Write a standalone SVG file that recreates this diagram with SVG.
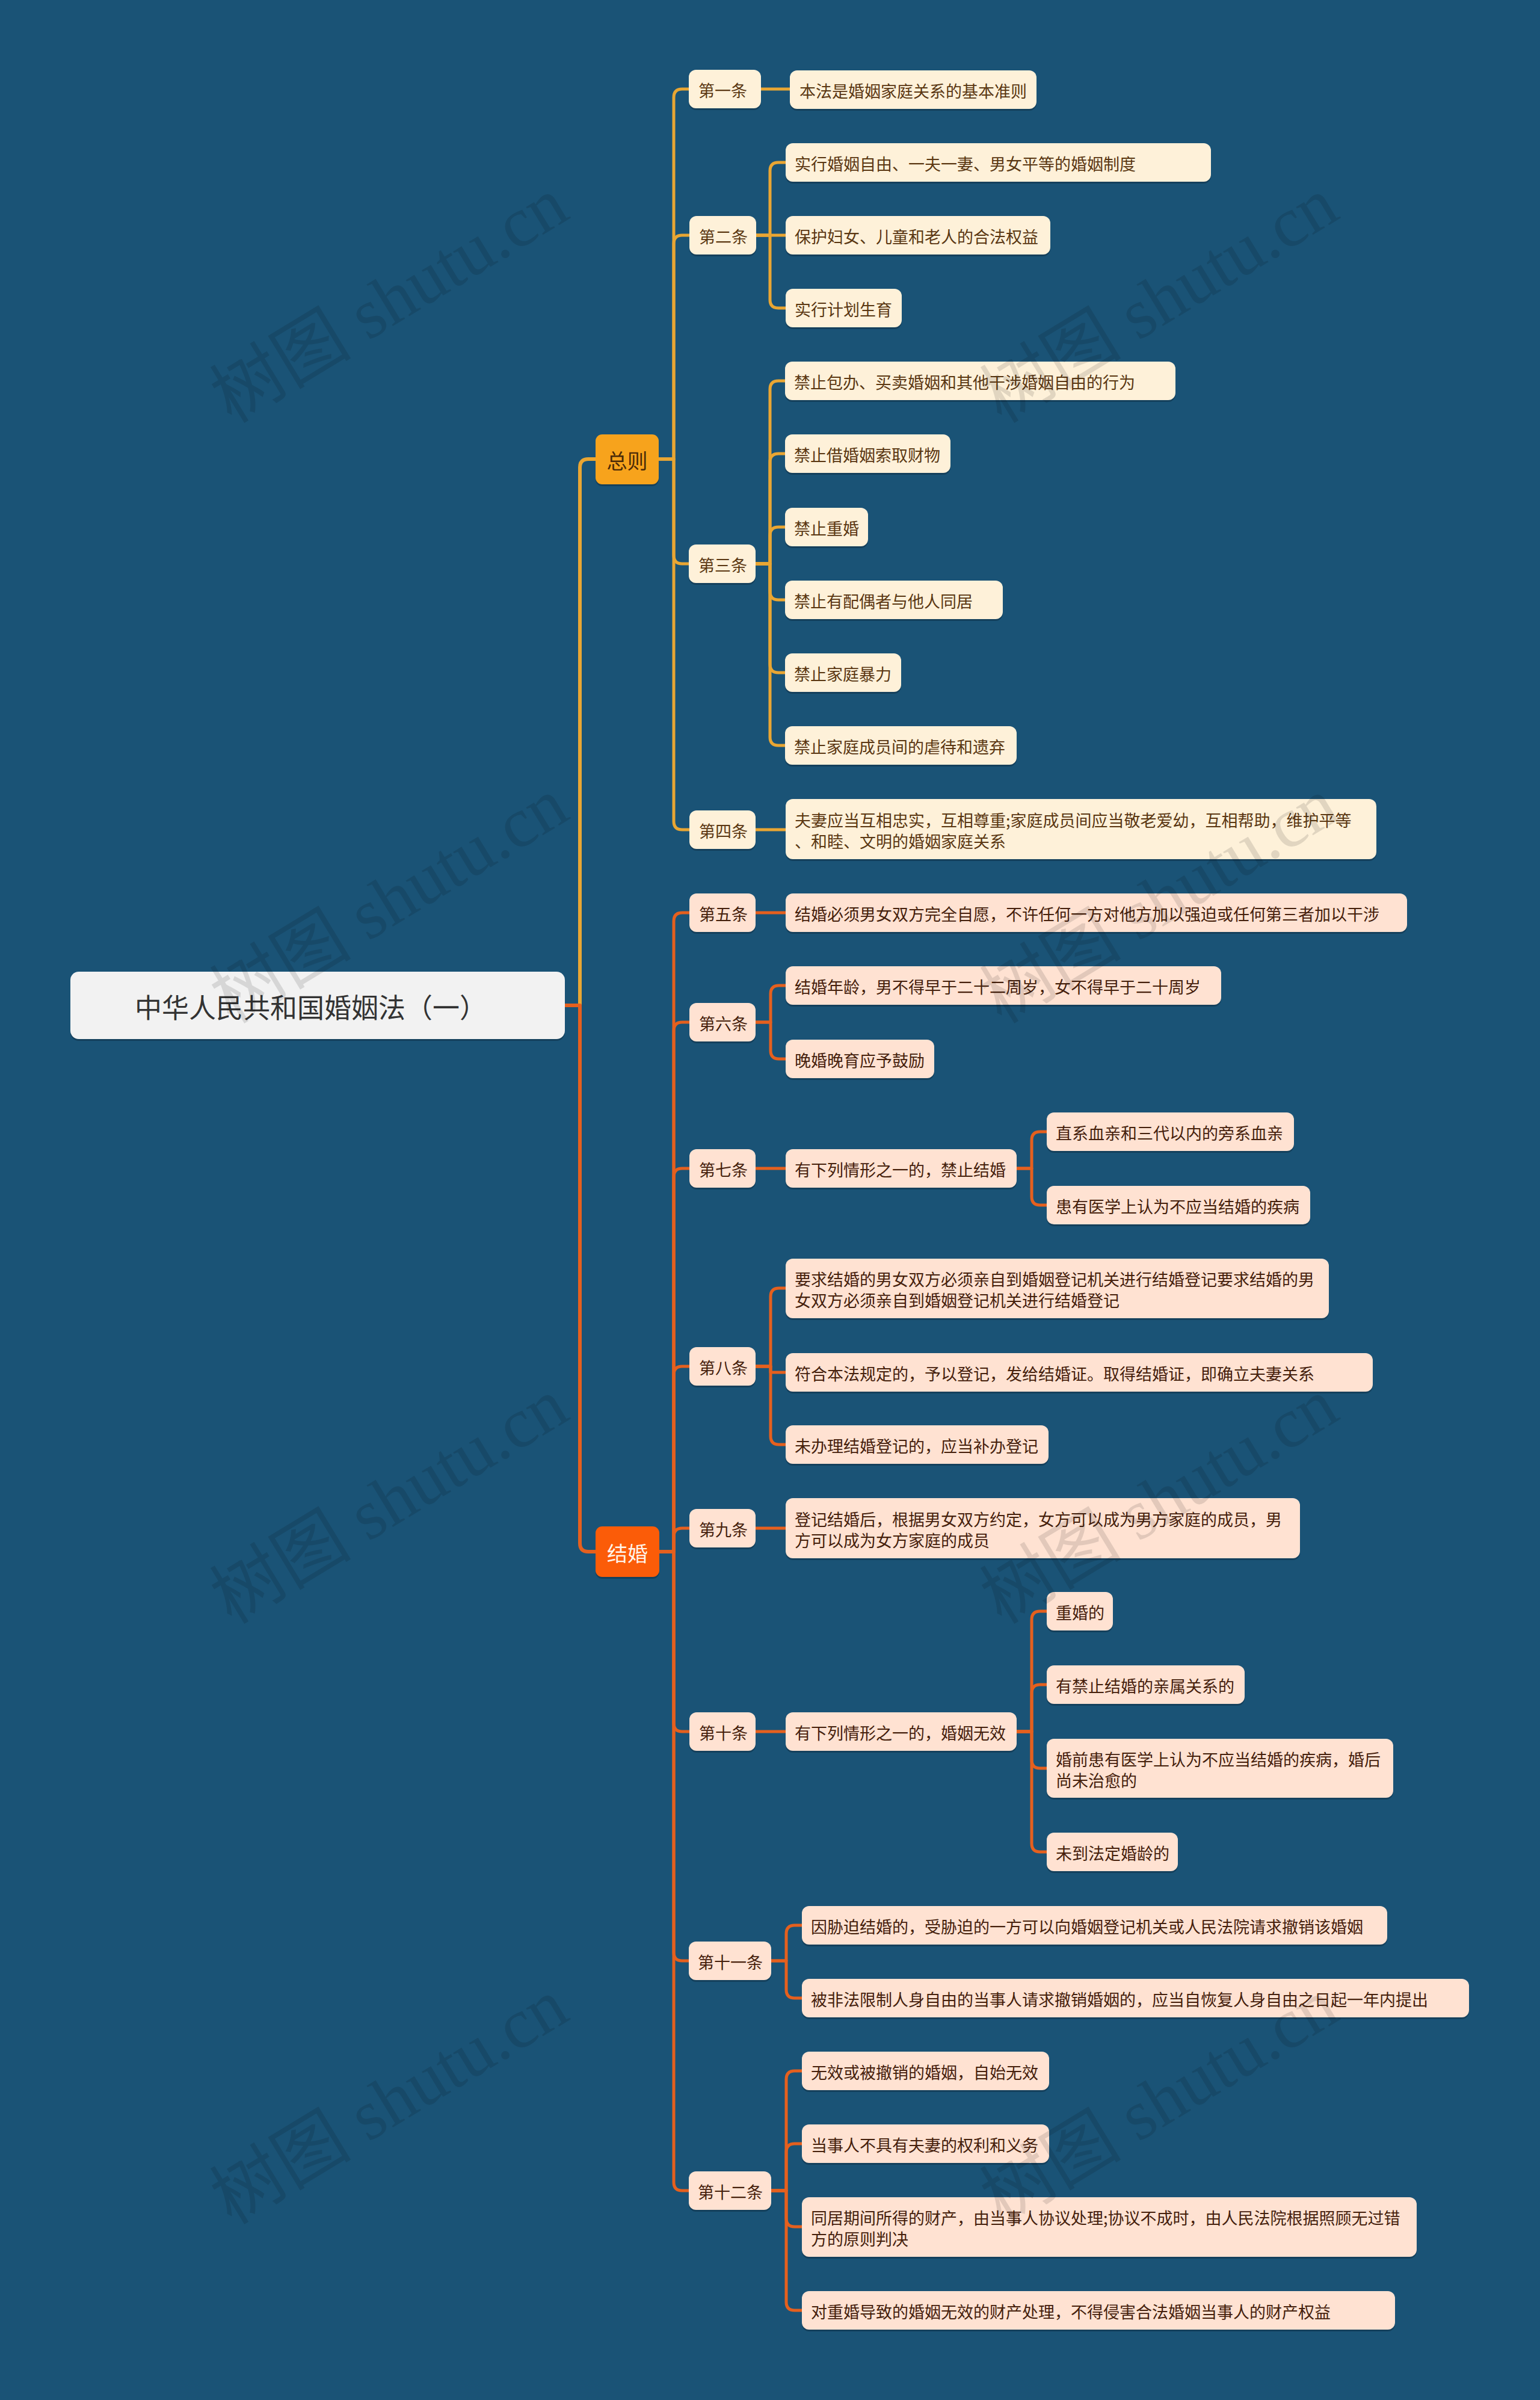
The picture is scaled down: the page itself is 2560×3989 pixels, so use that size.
<svg xmlns="http://www.w3.org/2000/svg" width="2560" height="3989" viewBox="0 0 2560 3989">
<style>
.y{fill:none;stroke:#e9a633;stroke-width:5;stroke-linecap:round;stroke-linejoin:round}
.o{fill:none;stroke:#e5601e;stroke-width:5;stroke-linecap:round;stroke-linejoin:round}
.tk{stroke-width:6}
.sh{fill:#000;opacity:.22}
.cr{fill:#fef1d9}
.pc{fill:#ffe2d2}
.t{font-family:"Noto Sans CJK SC","Noto Sans",sans-serif;font-size:27px;dominant-baseline:central}
.tc{fill:#5a3712}
.tp{fill:#45200c}
.wm{font-family:"Liberation Serif","Noto Sans CJK SC",serif;font-size:118px;fill:#000;opacity:.11}
</style>
<rect x="0" y="0" width="2560" height="3989" fill="#1a5376"/>

<g id="connectors">
<path class="y tk" d="M964 1671 V777 Q964 763 978 763 H990"/>
<path class="o tk" d="M939 1671 H964 V2565 Q964 2579 978 2579 H990"/>
<path class="y" d="M1095 763 H1120 V162 Q1120 148 1134 148 H1145"/>
<path class="y" d="M1095 763 H1120 V405 Q1120 391 1134 391 H1146"/>
<path class="y" d="M1095 763 H1120 V923 Q1120 937 1134 937 H1145"/>
<path class="y" d="M1095 763 H1120 V1365 Q1120 1379 1134 1379 H1146"/>
<path class="y" d="M1265 148 H1313"/>
<path class="y" d="M1257 391 H1280 V284 Q1280 270 1294 270 H1306"/>
<path class="y" d="M1257 391 H1306"/>
<path class="y" d="M1257 391 H1280 V498 Q1280 512 1294 512 H1306"/>
<path class="y" d="M1256 937 H1280 V647 Q1280 633 1294 633 H1305"/>
<path class="y" d="M1256 937 H1280 V768 Q1280 754 1294 754 H1305"/>
<path class="y" d="M1256 937 H1280 V890 Q1280 876 1294 876 H1305"/>
<path class="y" d="M1256 937 H1280 V983 Q1280 997 1294 997 H1305"/>
<path class="y" d="M1256 937 H1280 V1104 Q1280 1118 1294 1118 H1305"/>
<path class="y" d="M1256 937 H1280 V1225 Q1280 1239 1294 1239 H1305"/>
<path class="y" d="M1256 1379 H1306"/>
<path class="o" d="M1096 2579 H1120 V1531 Q1120 1517 1134 1517 H1146"/>
<path class="o" d="M1096 2579 H1120 V1713 Q1120 1699 1134 1699 H1146"/>
<path class="o" d="M1096 2579 H1120 V1956 Q1120 1942 1134 1942 H1146"/>
<path class="o" d="M1096 2579 H1120 V2285 Q1120 2271 1134 2271 H1146"/>
<path class="o" d="M1096 2579 H1120 V2554 Q1120 2540 1134 2540 H1146"/>
<path class="o" d="M1096 2579 H1120 V2864 Q1120 2878 1134 2878 H1146"/>
<path class="o" d="M1096 2579 H1120 V3245 Q1120 3259 1134 3259 H1145"/>
<path class="o" d="M1096 2579 H1120 V3627 Q1120 3641 1134 3641 H1145"/>
<path class="o" d="M1256 1517 H1306"/>
<path class="o" d="M1256 1699 H1281 V1652 Q1281 1638 1295 1638 H1306"/>
<path class="o" d="M1256 1699 H1281 V1746 Q1281 1760 1295 1760 H1306"/>
<path class="o" d="M1256 1942 H1306"/>
<path class="o" d="M1690 1942 H1715 V1895 Q1715 1881 1729 1881 H1740"/>
<path class="o" d="M1690 1942 H1715 V1989 Q1715 2003 1729 2003 H1740"/>
<path class="o" d="M1256 2271 H1281 V2155 Q1281 2141 1295 2141 H1306"/>
<path class="o" d="M1256 2271 H1281 V2281 H1306"/>
<path class="o" d="M1256 2271 H1281 V2387 Q1281 2401 1295 2401 H1306"/>
<path class="o" d="M1256 2540 H1306"/>
<path class="o" d="M1256 2878 H1306"/>
<path class="o" d="M1690 2878 H1715 V2692 Q1715 2678 1729 2678 H1740"/>
<path class="o" d="M1690 2878 H1715 V2814 Q1715 2800 1729 2800 H1740"/>
<path class="o" d="M1690 2878 H1715 V2925 Q1715 2939 1729 2939 H1740"/>
<path class="o" d="M1690 2878 H1715 V3064 Q1715 3078 1729 3078 H1740"/>
<path class="o" d="M1282 3259 H1307 V3214 Q1307 3200 1321 3200 H1333"/>
<path class="o" d="M1282 3259 H1307 V3307 Q1307 3321 1321 3321 H1333"/>
<path class="o" d="M1282 3641 H1307 V3456 Q1307 3442 1321 3442 H1333"/>
<path class="o" d="M1282 3641 H1307 V3577 Q1307 3563 1321 3563 H1333"/>
<path class="o" d="M1282 3641 H1307 V3687 Q1307 3701 1321 3701 H1333"/>
<path class="o" d="M1282 3641 H1307 V3826 Q1307 3840 1321 3840 H1333"/>
</g>

<g id="root"><rect class="sh" x="117" y="1618" width="822" height="112" rx="14"/><rect x="117" y="1615" width="822" height="112" rx="14" fill="#f2f2f2"/><text x="224" y="1672" font-family="'Noto Sans CJK SC','Noto Sans',sans-serif" font-size="45" fill="#333333" dominant-baseline="central">中华人民共和国婚姻法（一）</text></g>

<g id="zongze"><rect class="sh" x="990" y="725" width="105" height="83" rx="11"/><rect x="990" y="722" width="105" height="83" rx="11" fill="#f7a31c"/><text x="1042.5" y="764" text-anchor="middle" font-family="'Noto Sans CJK SC','Noto Sans',sans-serif" font-size="34" fill="#4a2a08" dominant-baseline="central">总则</text></g>
<g id="jiehun"><rect class="sh" x="990" y="2540" width="106" height="84" rx="11"/><rect x="990" y="2537" width="106" height="84" rx="11" fill="#fb5c08"/><text x="1043" y="2580" text-anchor="middle" font-family="'Noto Sans CJK SC','Noto Sans',sans-serif" font-size="34" fill="#fff4ea" dominant-baseline="central">结婚</text></g>

<g id="a1"><rect class="sh" x="1145" y="119" width="120" height="64" rx="12"/><rect class="cr" x="1145" y="116" width="120" height="64" rx="12"/><text class="t tc" x="1161" y="149">第一条</text></g>
<g id="a1c1"><rect class="sh" x="1313" y="120" width="410" height="64" rx="12"/><rect class="cr" x="1313" y="117" width="410" height="64" rx="12"/><text class="t tc" x="1329" y="150">本法是婚姻家庭关系的基本准则</text></g>
<g id="a2"><rect class="sh" x="1146" y="362" width="111" height="64" rx="12"/><rect class="cr" x="1146" y="359" width="111" height="64" rx="12"/><text class="t tc" x="1162" y="392">第二条</text></g>
<g id="a2c1"><rect class="sh" x="1306" y="241" width="707" height="64" rx="12"/><rect class="cr" x="1306" y="238" width="707" height="64" rx="12"/><text class="t tc" x="1321" y="271">实行婚姻自由、一夫一妻、男女平等的婚姻制度</text></g>
<g id="a2c2"><rect class="sh" x="1306" y="362" width="440" height="64" rx="12"/><rect class="cr" x="1306" y="359" width="440" height="64" rx="12"/><text class="t tc" x="1321" y="392">保护妇女、儿童和老人的合法权益</text></g>
<g id="a2c3"><rect class="sh" x="1306" y="483" width="193" height="64" rx="12"/><rect class="cr" x="1306" y="480" width="193" height="64" rx="12"/><text class="t tc" x="1321" y="513">实行计划生育</text></g>
<g id="a3"><rect class="sh" x="1145" y="908" width="111" height="64" rx="12"/><rect class="cr" x="1145" y="905" width="111" height="64" rx="12"/><text class="t tc" x="1161" y="938">第三条</text></g>
<g id="a3c1"><rect class="sh" x="1305" y="604" width="649" height="64" rx="12"/><rect class="cr" x="1305" y="601" width="649" height="64" rx="12"/><text class="t tc" x="1320" y="634">禁止包办、买卖婚姻和其他干涉婚姻自由的行为</text></g>
<g id="a3c2"><rect class="sh" x="1305" y="725" width="275" height="64" rx="12"/><rect class="cr" x="1305" y="722" width="275" height="64" rx="12"/><text class="t tc" x="1320" y="755">禁止借婚姻索取财物</text></g>
<g id="a3c3"><rect class="sh" x="1305" y="847" width="138" height="64" rx="12"/><rect class="cr" x="1305" y="844" width="138" height="64" rx="12"/><text class="t tc" x="1320" y="877">禁止重婚</text></g>
<g id="a3c4"><rect class="sh" x="1305" y="968" width="362" height="64" rx="12"/><rect class="cr" x="1305" y="965" width="362" height="64" rx="12"/><text class="t tc" x="1320" y="998">禁止有配偶者与他人同居</text></g>
<g id="a3c5"><rect class="sh" x="1305" y="1089" width="193" height="64" rx="12"/><rect class="cr" x="1305" y="1086" width="193" height="64" rx="12"/><text class="t tc" x="1320" y="1119">禁止家庭暴力</text></g>
<g id="a3c6"><rect class="sh" x="1305" y="1210" width="385" height="64" rx="12"/><rect class="cr" x="1305" y="1207" width="385" height="64" rx="12"/><text class="t tc" x="1320" y="1240">禁止家庭成员间的虐待和遗弃</text></g>
<g id="a4"><rect class="sh" x="1146" y="1350" width="110" height="64" rx="12"/><rect class="cr" x="1146" y="1347" width="110" height="64" rx="12"/><text class="t tc" x="1162" y="1380">第四条</text></g>
<g id="a4c1"><rect class="sh" x="1306" y="1331" width="982" height="100" rx="12"/><rect class="cr" x="1306" y="1328" width="982" height="100" rx="12"/><text class="t tc" x="1321" y="1362">夫妻应当互相忠实，互相尊重;家庭成员间应当敬老爱幼，互相帮助，维护平等</text><text class="t tc" x="1321" y="1397">、和睦、文明的婚姻家庭关系</text></g>

<g id="b5"><rect class="sh" x="1146" y="1488" width="110" height="64" rx="12"/><rect class="pc" x="1146" y="1485" width="110" height="64" rx="12"/><text class="t tp" x="1162" y="1518">第五条</text></g>
<g id="b5c1"><rect class="sh" x="1306" y="1488" width="1033" height="64" rx="12"/><rect class="pc" x="1306" y="1485" width="1033" height="64" rx="12"/><text class="t tp" x="1321" y="1518">结婚必须男女双方完全自愿，不许任何一方对他方加以强迫或任何第三者加以干涉</text></g>
<g id="b6"><rect class="sh" x="1146" y="1670" width="110" height="64" rx="12"/><rect class="pc" x="1146" y="1667" width="110" height="64" rx="12"/><text class="t tp" x="1162" y="1700">第六条</text></g>
<g id="b6c1"><rect class="sh" x="1306" y="1609" width="724" height="64" rx="12"/><rect class="pc" x="1306" y="1606" width="724" height="64" rx="12"/><text class="t tp" x="1321" y="1639">结婚年龄，男不得早于二十二周岁，女不得早于二十周岁</text></g>
<g id="b6c2"><rect class="sh" x="1306" y="1731" width="247" height="64" rx="12"/><rect class="pc" x="1306" y="1728" width="247" height="64" rx="12"/><text class="t tp" x="1321" y="1761">晚婚晚育应予鼓励</text></g>
<g id="b7"><rect class="sh" x="1146" y="1913" width="110" height="64" rx="12"/><rect class="pc" x="1146" y="1910" width="110" height="64" rx="12"/><text class="t tp" x="1162" y="1943">第七条</text></g>
<g id="b7c1"><rect class="sh" x="1306" y="1913" width="384" height="64" rx="12"/><rect class="pc" x="1306" y="1910" width="384" height="64" rx="12"/><text class="t tp" x="1321" y="1943">有下列情形之一的，禁止结婚</text></g>
<g id="b7c1a"><rect class="sh" x="1740" y="1852" width="411" height="64" rx="12"/><rect class="pc" x="1740" y="1849" width="411" height="64" rx="12"/><text class="t tp" x="1755" y="1882">直系血亲和三代以内的旁系血亲</text></g>
<g id="b7c1b"><rect class="sh" x="1740" y="1974" width="438" height="64" rx="12"/><rect class="pc" x="1740" y="1971" width="438" height="64" rx="12"/><text class="t tp" x="1755" y="2004">患有医学上认为不应当结婚的疾病</text></g>
<g id="b8"><rect class="sh" x="1146" y="2242" width="110" height="64" rx="12"/><rect class="pc" x="1146" y="2239" width="110" height="64" rx="12"/><text class="t tp" x="1162" y="2272">第八条</text></g>
<g id="b8c1"><rect class="sh" x="1306" y="2095" width="903" height="99" rx="12"/><rect class="pc" x="1306" y="2092" width="903" height="99" rx="12"/><text class="t tp" x="1321" y="2125">要求结婚的男女双方必须亲自到婚姻登记机关进行结婚登记要求结婚的男</text><text class="t tp" x="1321" y="2160">女双方必须亲自到婚姻登记机关进行结婚登记</text></g>
<g id="b8c2"><rect class="sh" x="1306" y="2252" width="976" height="64" rx="12"/><rect class="pc" x="1306" y="2249" width="976" height="64" rx="12"/><text class="t tp" x="1321" y="2282">符合本法规定的，予以登记，发给结婚证。取得结婚证，即确立夫妻关系</text></g>
<g id="b8c3"><rect class="sh" x="1306" y="2372" width="437" height="64" rx="12"/><rect class="pc" x="1306" y="2369" width="437" height="64" rx="12"/><text class="t tp" x="1321" y="2402">未办理结婚登记的，应当补办登记</text></g>
<g id="b9"><rect class="sh" x="1146" y="2511" width="110" height="64" rx="12"/><rect class="pc" x="1146" y="2508" width="110" height="64" rx="12"/><text class="t tp" x="1162" y="2541">第九条</text></g>
<g id="b9c1"><rect class="sh" x="1306" y="2493" width="855" height="100" rx="12"/><rect class="pc" x="1306" y="2490" width="855" height="100" rx="12"/><text class="t tp" x="1321" y="2524">登记结婚后，根据男女双方约定，女方可以成为男方家庭的成员，男</text><text class="t tp" x="1321" y="2559">方可以成为女方家庭的成员</text></g>
<g id="b10"><rect class="sh" x="1146" y="2849" width="110" height="64" rx="12"/><rect class="pc" x="1146" y="2846" width="110" height="64" rx="12"/><text class="t tp" x="1162" y="2879">第十条</text></g>
<g id="b10c1"><rect class="sh" x="1306" y="2849" width="384" height="64" rx="12"/><rect class="pc" x="1306" y="2846" width="384" height="64" rx="12"/><text class="t tp" x="1321" y="2879">有下列情形之一的，婚姻无效</text></g>
<g id="b10c1a"><rect class="sh" x="1740" y="2649" width="110" height="64" rx="12"/><rect class="pc" x="1740" y="2646" width="110" height="64" rx="12"/><text class="t tp" x="1755" y="2679">重婚的</text></g>
<g id="b10c1b"><rect class="sh" x="1740" y="2771" width="329" height="64" rx="12"/><rect class="pc" x="1740" y="2768" width="329" height="64" rx="12"/><text class="t tp" x="1755" y="2801">有禁止结婚的亲属关系的</text></g>
<g id="b10c1c"><rect class="sh" x="1740" y="2893" width="576" height="98" rx="12"/><rect class="pc" x="1740" y="2890" width="576" height="98" rx="12"/><text class="t tp" x="1755" y="2923">婚前患有医学上认为不应当结婚的疾病，婚后</text><text class="t tp" x="1755" y="2958">尚未治愈的</text></g>
<g id="b10c1d"><rect class="sh" x="1740" y="3049" width="218" height="64" rx="12"/><rect class="pc" x="1740" y="3046" width="218" height="64" rx="12"/><text class="t tp" x="1755" y="3079">未到法定婚龄的</text></g>
<g id="b11"><rect class="sh" x="1145" y="3230" width="137" height="64" rx="12"/><rect class="pc" x="1145" y="3227" width="137" height="64" rx="12"/><text class="t tp" x="1160" y="3260">第十一条</text></g>
<g id="b11c1"><rect class="sh" x="1333" y="3171" width="973" height="64" rx="12"/><rect class="pc" x="1333" y="3168" width="973" height="64" rx="12"/><text class="t tp" x="1348" y="3201">因胁迫结婚的，受胁迫的一方可以向婚姻登记机关或人民法院请求撤销该婚姻</text></g>
<g id="b11c2"><rect class="sh" x="1333" y="3292" width="1109" height="64" rx="12"/><rect class="pc" x="1333" y="3289" width="1109" height="64" rx="12"/><text class="t tp" x="1348" y="3322">被非法限制人身自由的当事人请求撤销婚姻的，应当自恢复人身自由之日起一年内提出</text></g>
<g id="b12"><rect class="sh" x="1145" y="3612" width="137" height="64" rx="12"/><rect class="pc" x="1145" y="3609" width="137" height="64" rx="12"/><text class="t tp" x="1160" y="3642">第十二条</text></g>
<g id="b12c1"><rect class="sh" x="1333" y="3413" width="411" height="64" rx="12"/><rect class="pc" x="1333" y="3410" width="411" height="64" rx="12"/><text class="t tp" x="1348" y="3443">无效或被撤销的婚姻，自始无效</text></g>
<g id="b12c2"><rect class="sh" x="1333" y="3534" width="411" height="64" rx="12"/><rect class="pc" x="1333" y="3531" width="411" height="64" rx="12"/><text class="t tp" x="1348" y="3564">当事人不具有夫妻的权利和义务</text></g>
<g id="b12c3"><rect class="sh" x="1333" y="3655" width="1022" height="99" rx="12"/><rect class="pc" x="1333" y="3652" width="1022" height="99" rx="12"/><text class="t tp" x="1348" y="3685">同居期间所得的财产，由当事人协议处理;协议不成时，由人民法院根据照顾无过错</text><text class="t tp" x="1348" y="3720">方的原则判决</text></g>
<g id="b12c4"><rect class="sh" x="1333" y="3811" width="986" height="64" rx="12"/><rect class="pc" x="1333" y="3808" width="986" height="64" rx="12"/><text class="t tp" x="1348" y="3841">对重婚导致的婚姻无效的财产处理，不得侵害合法婚姻当事人的财产权益</text></g>

<g id="watermark">
<text class="wm" transform="translate(385 705) rotate(-31.3)">树图 shutu.cn</text>
<text class="wm" transform="translate(1665 705) rotate(-31.3)">树图 shutu.cn</text>
<text class="wm" transform="translate(385 1703) rotate(-31.3)">树图 shutu.cn</text>
<text class="wm" transform="translate(1665 1703) rotate(-31.3)">树图 shutu.cn</text>
<text class="wm" transform="translate(385 2701) rotate(-31.3)">树图 shutu.cn</text>
<text class="wm" transform="translate(1665 2701) rotate(-31.3)">树图 shutu.cn</text>
<text class="wm" transform="translate(385 3699) rotate(-31.3)">树图 shutu.cn</text>
<text class="wm" transform="translate(1665 3699) rotate(-31.3)">树图 shutu.cn</text>
</g>
</svg>
